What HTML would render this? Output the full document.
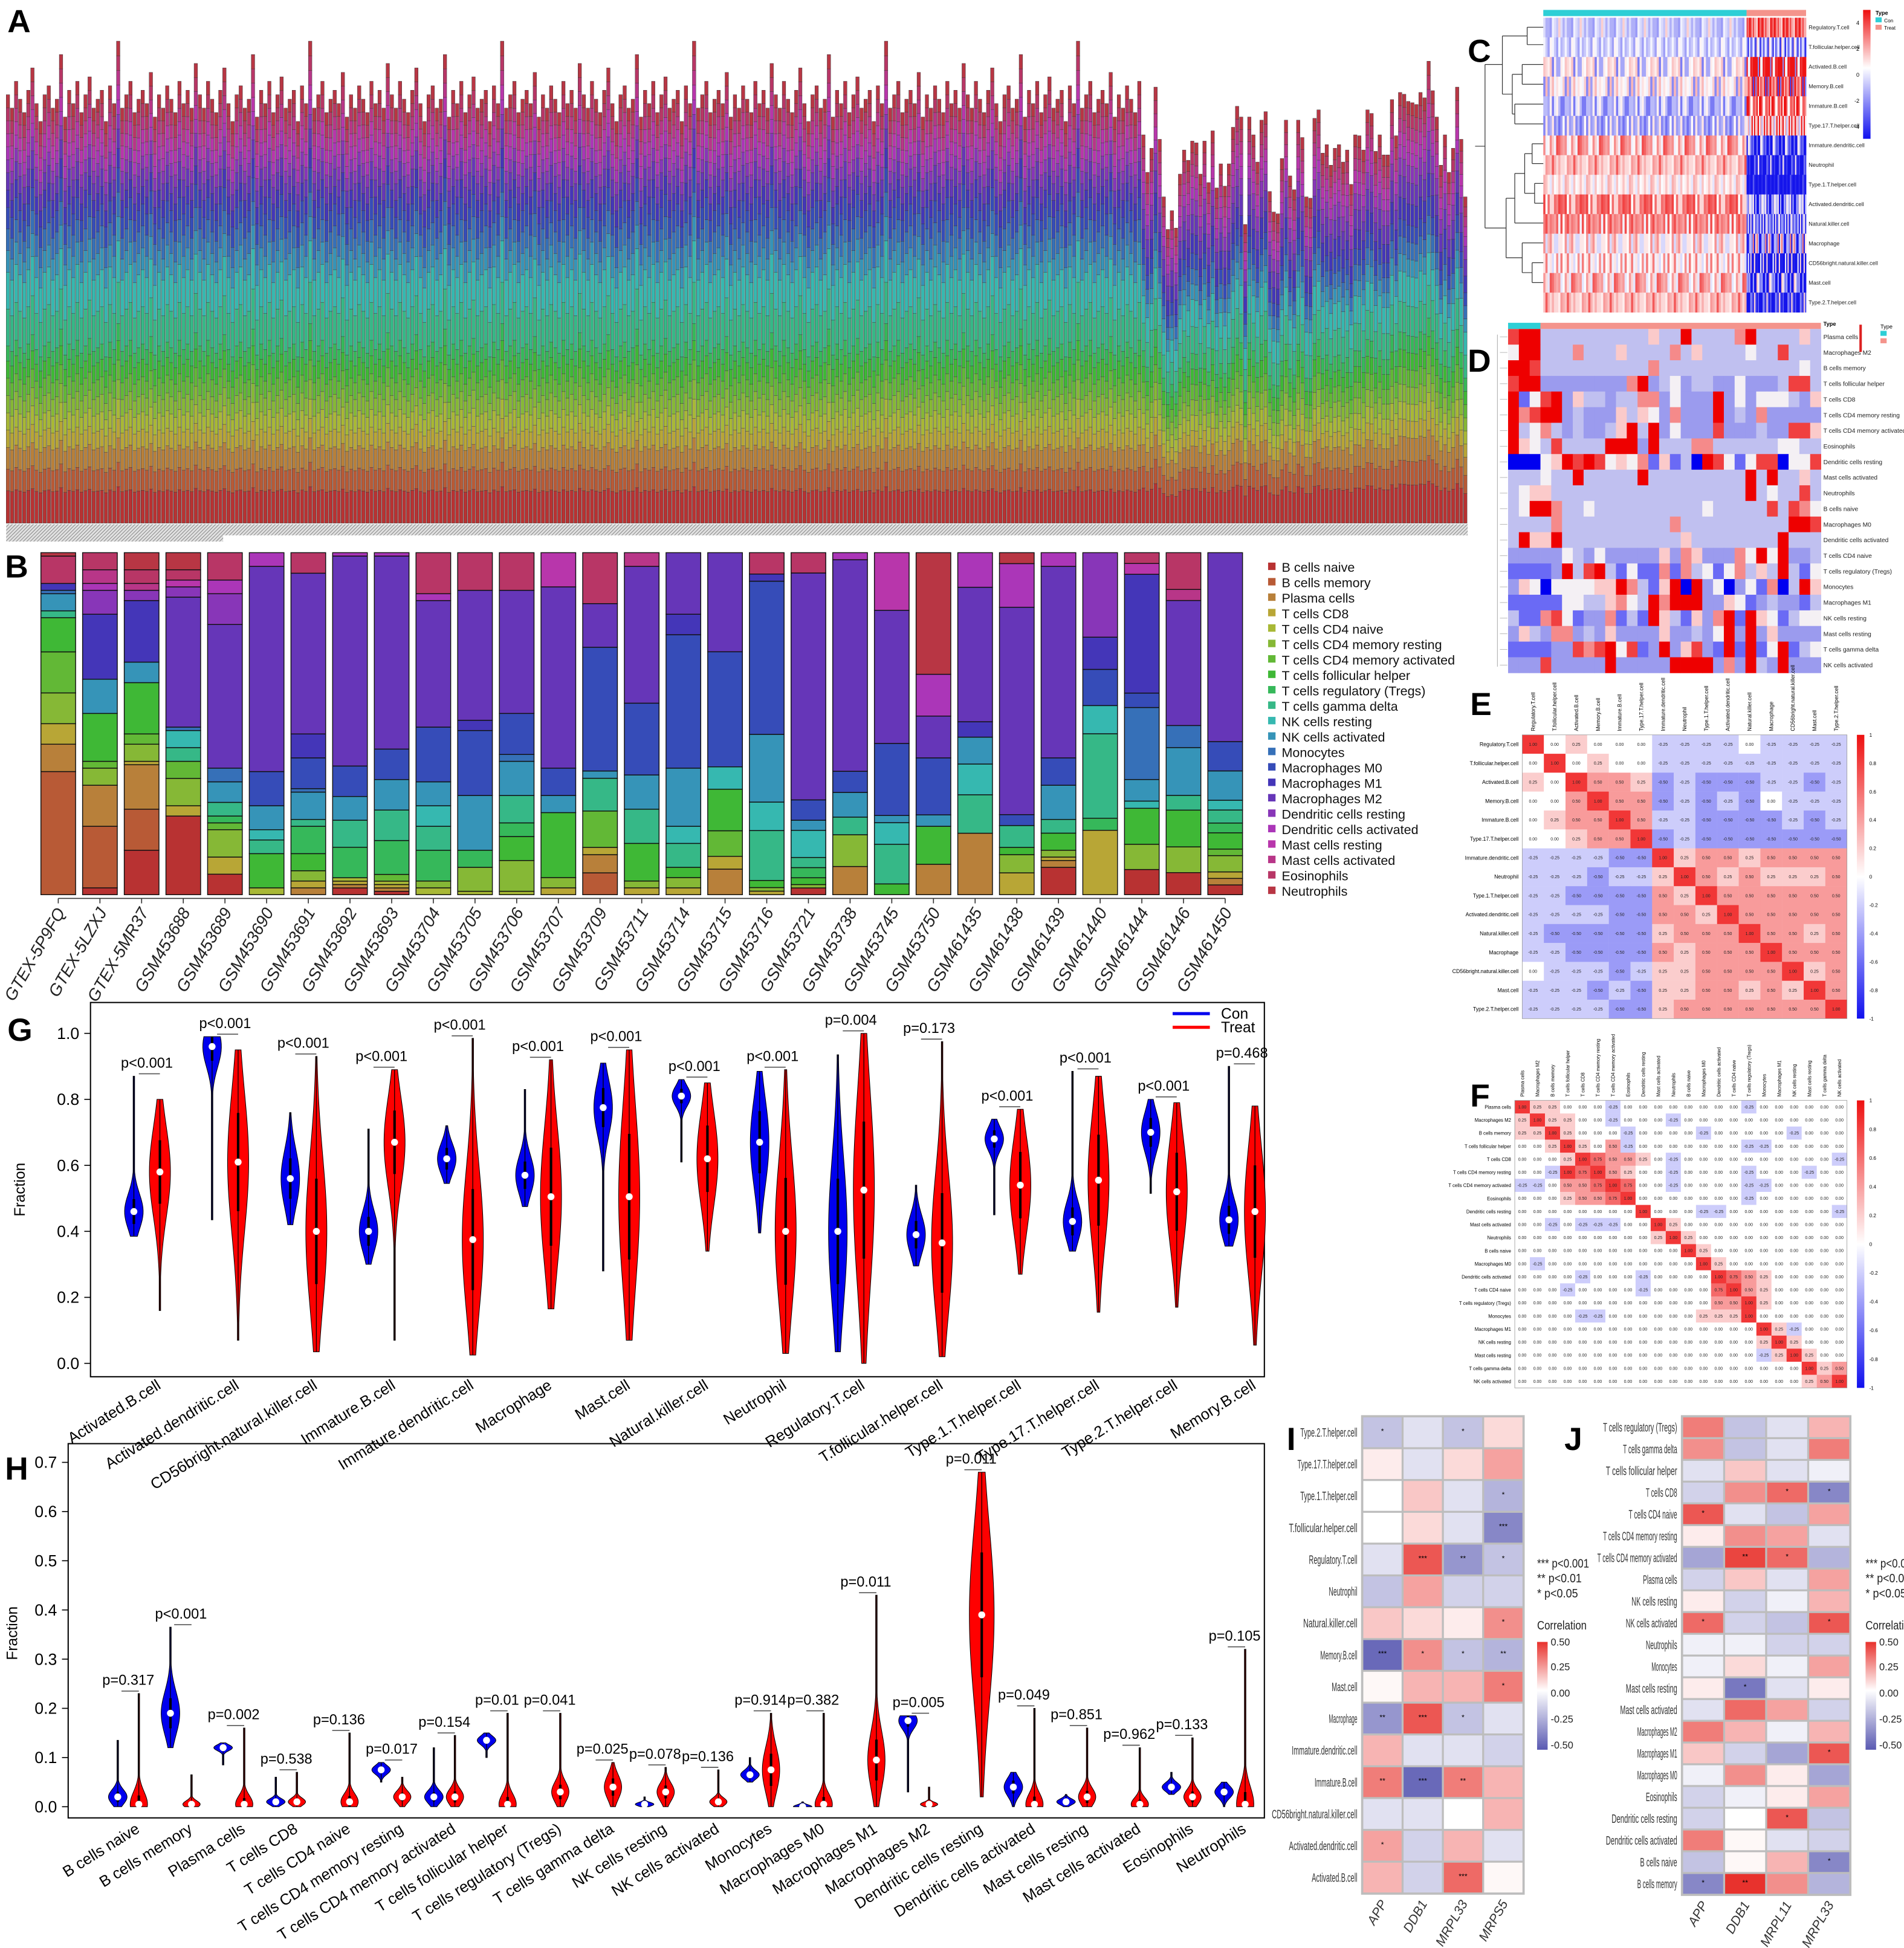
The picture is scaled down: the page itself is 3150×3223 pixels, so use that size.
<!DOCTYPE html>
<html><head><meta charset="utf-8">
<style>html,body{margin:0;padding:0;background:#fff}svg{display:block}</style>
</head><body>
<svg id="fig" xmlns="http://www.w3.org/2000/svg" width="3150" height="3223" viewBox="0 0 1536 1572" preserveAspectRatio="none" font-family="Liberation Sans, sans-serif"></svg>
<script>
// ---------------- DATA ----------------
const CELL_TYPES=['B cells naive','B cells memory','Plasma cells','T cells CD8','T cells CD4 naive','T cells CD4 memory resting','T cells CD4 memory activated','T cells follicular helper','T cells regulatory (Tregs)','T cells gamma delta','NK cells resting','NK cells activated','Monocytes','Macrophages M0','Macrophages M1','Macrophages M2','Dendritic cells resting','Dendritic cells activated','Mast cells resting','Mast cells activated','Eosinophils','Neutrophils'];
const PALETTE=['#b83232','#b85a36','#b8803a','#b8a636','#a8b836','#86b836','#62b836','#3fb836','#36b85a','#36b887','#36b8b0','#3694b8','#3670b8','#364cb8','#4436b8','#6636b8','#8836b8','#ab36b8','#b836ab','#b83688','#b83666','#b83644'];
const A_LEFT_TOTALS=[0.96,0.93,0.99,0.95,0.92,0.97,1.02,0.94,0.9,0.96,0.98,0.93,0.95,1.05,0.91,0.97,0.94,0.99,0.92,0.96,1.0,0.93,0.95,0.97,0.9,0.98,0.94,1.08,0.93,0.96,0.99,0.92,0.95,0.97,0.94,1.01,0.91,0.96,0.93,0.98,0.95,0.92,0.99,0.94,0.97,0.93,1.03];
const A_RIGHT_TOTALS=[0.87,0.786,0.84,0.977,0.86,0.731,0.658,0.70,0.661,0.782,0.836,0.813,0.856,0.852,0.782,0.856,0.763,0.879,0.751,0.805,0.755,0.805,0.887,0.934,0.91,0.669,0.91,0.87,0.809,0.903,0.922,0.743,0.697,0.693,0.817,0.903,0.778,0.747,0.903,0.864,0.731,0.728,0.907,0.926,0.829,0.848,0.802,0.84,0.848,0.809,0.836,0.759,0.87,0.868,0.836,0.926,0.918,0.833,0.87,0.825,0.825,0.949,0.868,0.965,0.961,0.945,0.942,0.938,0.965,0.953,1.035,0.969,0.91,0.802];
const A_COMP_LEFT=[7.5,5,5,4,4,4,4,4,3.5,8.5,8.5,5,5,5,4,4,3,3,3,3,3,3];
const A_COMP_RIGHT=[9,5.5,5.5,4,4,4,4,4,4,7,7,4,4,4,5,5,4,3,3,3,3,3];
const B_SAMPLES=['GTEX-5P9FQ','GTEX-5LZXJ','GTEX-5MR37','GSM453688','GSM453689','GSM453690','GSM453691','GSM453692','GSM453693','GSM453704','GSM453705','GSM453706','GSM453707','GSM453709','GSM453711','GSM453714','GSM453715','GSM453716','GSM453721','GSM453738','GSM453745','GSM453750','GSM461435','GSM461438','GSM461439','GSM461440','GSM461444','GSM461446','GSM461450'];
const B_DATA=[
[0,36,8,6,0,9,12,10,0,2,0,5,1,0,2,0,0,0,0,0,8,1],
[2,18,12,0,0,5,2,14,0,0,0,10,0,0,19,0,7,2,0,4,5,0],
[13,12,13,1,0,5,3,15,0,0,0,6,0,0,18,0,3,0,0,2,4,5],
[23,0,0,3,0,8,5,0,0,4,5,0,1,0,0,38,3,0,2,0,3,5],
[6,0,0,5,0,8,2,0,2,4,0,6,4,0,0,42,9,4,0,0,8,0],
[0,0,0,0,2,0,0,10,0,4,3,7,0,10,0,60,0,4,0,0,0,0],
[0,0,2,2,0,3,0,5,8,2,0,8,1,9,7,47,0,0,0,0,6,0],
[2,0,1,1,1,0,0,0,9,8,0,7,0,9,0,62,0,1,0,0,0,0],
[1,0,1,1,1,0,2,0,10,9,0,9,0,9,0,57,0,1,0,0,0,0],
[0,0,0,0,2,2,0,0,9,7,6,7,0,16,0,37,0,2,0,0,12,0],
[0,0,0,0,1,7,0,0,5,0,0,16,0,19,3,38,0,0,0,0,11,0],
[0,0,0,0,1,9,0,7,4,8,0,10,2,12,0,36,0,0,0,0,11,0],
[0,0,0,2,0,3,0,19,0,0,0,5,0,8,0,53,0,0,10,0,0,0],
[0,6,5,2,0,0,10,0,0,9,0,2,0,34,0,12,0,0,0,0,14,0],
[0,0,0,2,0,2,0,11,0,10,0,10,0,21,0,40,0,0,0,4,0,0],
[0,0,0,2,0,3,0,3,0,7,5,17,0,39,6,18,0,0,0,0,0,0],
[0,0,8,4,0,0,8,13,0,0,7,0,0,36,0,31,0,0,0,0,0,0],
[0,0,0,1,0,1,0,2,0,14,8,19,0,43,2,0,0,0,0,0,6,0],
[2,0,0,0,0,1,0,2,3,3,8,3,0,6,0,67,0,0,0,0,6,0],
[0,0,8,0,0,9,0,0,0,5,0,7,0,6,0,60,0,2,0,0,0,0],
[0,0,0,0,0,0,0,3,0,11,6,2,0,20,0,37,0,0,16,0,0,0],
[0,0,8,0,0,0,0,10,0,0,0,3,0,15,0,11,0,11,0,0,0,32],
[0,0,16,0,0,0,0,0,0,10,8,7,0,0,4,35,0,9,0,0,0,0],
[0,0,0,6,0,5,0,2,0,6,0,0,0,3,0,57,0,12,0,0,0,3],
[8,0,2,1,0,2,0,5,0,4,0,10,0,8,0,56,0,4,0,0,0,0],
[0,0,0,16,0,0,0,0,3,21,7,0,0,9,8,0,21,0,0,0,0,0],
[7,0,0,0,0,7,0,10,0,0,2,6,20,4,33,0,0,0,3,0,3,0],
[6,0,0,0,0,7,0,10,0,4,0,13,6,0,0,34,0,0,0,3,10,0],
[3,0,2,2,0,5,2,5,3,4,3,9,0,9,0,58,0,0,0,0,0,0]];

const G_CATS=['Activated.B.cell','Activated.dendritic.cell','CD56bright.natural.killer.cell','Immature.B.cell','Immature.dendritic.cell','Macrophage','Mast.cell','Natural.killer.cell','Neutrophil','Regulatory.T.cell','T.follicular.helper.cell','Type.1.T.helper.cell','Type.17.T.helper.cell','Type.2.T.helper.cell','Memory.B.cell'];
const G_CON_MED=[0.46,0.96,0.56,0.40,0.62,0.57,0.775,0.81,0.67,0.40,0.39,0.68,0.43,0.70,0.435];
const G_CON_MIN=[0.385,0.435,0.42,0.30,0.545,0.475,0.28,0.61,0.395,0.035,0.295,0.45,0.34,0.515,0.355];
const G_CON_MAX=[0.87,0.99,0.76,0.71,0.72,0.83,0.91,0.86,0.885,0.935,0.54,0.74,0.885,0.80,0.90];
const G_TRT_MED=[0.58,0.61,0.40,0.67,0.375,0.505,0.505,0.62,0.40,0.525,0.365,0.54,0.555,0.52,0.46];
const G_TRT_MIN=[0.16,0.07,0.035,0.07,0.025,0.165,0.07,0.34,0.03,0.0,0.02,0.27,0.155,0.17,0.055];
const G_TRT_MAX=[0.80,0.95,0.93,0.89,0.985,0.92,0.95,0.85,0.89,1.0,0.975,0.77,0.87,0.79,0.78];
const G_P=['p<0.001','p<0.001','p<0.001','p<0.001','p<0.001','p<0.001','p<0.001','p<0.001','p<0.001','p=0.004','p=0.173','p<0.001','p<0.001','p<0.001','p=0.468'];
const G_TICKS=[0,0.2,0.4,0.6,0.8,1.0];

const H_CATS=['B cells naive','B cells memory','Plasma cells','T cells CD8','T cells CD4 naive','T cells CD4 memory resting','T cells CD4 memory activated','T cells follicular helper','T cells regulatory (Tregs)','T cells gamma delta','NK cells resting','NK cells activated','Monocytes','Macrophages M0','Macrophages M1','Macrophages M2','Dendritic cells resting','Dendritic cells activated','Mast cells resting','Mast cells activated','Eosinophils','Neutrophils'];
const H_CON_MED=[0.02,0.19,0.12,0.01,0,0.075,0.02,0.135,0,0,0.005,0,0.065,0,0,0.175,0,0.04,0.01,0,0.04,0.03];
const H_CON_MIN=[0,0.12,0.085,0,0,0.05,0,0.10,0,0,0,0,0.05,0,0,0.03,0,0,0,0,0.025,0];
const H_CON_MAX=[0.135,0.365,0.13,0.06,0,0.09,0.12,0.15,0,0,0.02,0,0.10,0.01,0,0.185,0,0.07,0.025,0,0.07,0.05];
const H_TRT_MED=[0.005,0.005,0.005,0.01,0.01,0.02,0.02,0.005,0.03,0.04,0.03,0.01,0.075,0.005,0.095,0.005,0.39,0.005,0.02,0.005,0.02,0.005];
const H_TRT_MIN=[0,0,0,0,0,0,0,0,0,0,0,0,0,0,0,0,0.02,0,0,0,0,0];
const H_TRT_MAX=[0.23,0.065,0.16,0.07,0.15,0.06,0.145,0.19,0.19,0.09,0.08,0.075,0.19,0.19,0.43,0.04,0.68,0.20,0.16,0.12,0.14,0.32];
const H_P=['p=0.317','p<0.001','p=0.002','p=0.538','p=0.136','p=0.017','p=0.154','p=0.01','p=0.041','p=0.025','p=0.078','p=0.136','p=0.914','p=0.382','p=0.011','p=0.005','p=0.011','p=0.049','p=0.851','p=0.962','p=0.133','p=0.105'];
const H_TICKS=[0,0.1,0.2,0.3,0.4,0.5,0.6,0.7];

const C_ROWS=['Regulatory.T.cell','T.follicular.helper.cell','Activated.B.cell','Memory.B.cell','Immature.B.cell','Type.17.T.helper.cell','Immature.dendritic.cell','Neutrophil','Type.1.T.helper.cell','Activated.dendritic.cell','Natural.killer.cell','Macrophage','CD56bright.natural.killer.cell','Mast.cell','Type.2.T.helper.cell'];
const C_CON=[-0.2,0.0,-0.15,-0.1,-0.25,-0.2,0.35,0.3,0.3,0.4,0.35,0.15,0.25,0.3,0.3];
const C_TRT=[0.7,0.1,0.5,0.2,0.8,0.7,-0.9,-0.9,-0.8,-0.9,-0.9,-0.2,-0.6,-0.7,-0.8];
const C_JITTER='5284619370254831906472815039627418053926174850362917408253619473052816';

const D_ROWS=['Plasma cells','Macrophages M2','B cells memory','T cells follicular helper','T cells CD8','T cells CD4 memory resting','T cells CD4 memory activated','Eosinophils','Dendritic cells resting','Mast cells activated','Neutrophils','B cells naive','Macrophages M0','Dendritic cells activated','T cells CD4 naive','T cells regulatory (Tregs)','Monocytes','Macrophages M1','NK cells resting','Mast cells resting','T cells gamma delta','NK cells activated'];
const D_LEVELS=[
'78833333333335338333368333353',
'48833363335333363533334337333',
'88733333333336333333333333343',
'78822222222682342332242223773',
'81478253323366242228242444325',
'86788232225354262228232622222',
'83463232235838242227222322775',
'85437333388828333663333334433',
'00045878745461513087414770447',
'33343383333383333333338383353',
'34553333333333333333338343373',
'34886334333333333343333373764',
'33336333333333363333333333887',
'38558333333333335333333338333',
'22222432422222526522264848223',
'11112837831411616341463538314',
'25404444558631580824024160385',
'11111443356438688822541232213',
'31167412261318531526818541344',
'25326623252222522324828252222',
'11112276784712825721818148134',
'22272222282222288882628328222'];

const E_ROWS=C_ROWS.slice();
const E_LEVELS=['845444333343333','484544333333333','548665232223323','446866232324333','456686332222323','445668232222222','333322856656666','333233586565556','332222658666666','333322665866666','322222566686656','332222656668666','433323556666856','333232556656586','333322566666668'];
const F_ROWS=D_ROWS.slice();
const F_LEVELS=['8554443444444443444444','5855443444344444444444','5585444344443444443444','4458546344444443344444','4445876654344444444443','4438786544344443444344','3346678744344443344444','4445667844444443444444','4444444484443344444443','4434333448544444444444','4444444445854444444444','4444444444485444444444','4344444444448544444444','4444344434444876544444','4443444434444786544444','4444444444444668544444','4444334444445558444444','4444444444444444853444','4444444444444444585444','4444444444444444358544','4444444444444444444856','4444444444444444444568'];

const I_ROWS=['Type.2.T.helper.cell','Type.17.T.helper.cell','Type.1.T.helper.cell','T.follicular.helper.cell','Regulatory.T.cell','Neutrophil','Natural.killer.cell','Memory.B.cell','Mast.cell','Macrophage','Immature.dendritic.cell','Immature.B.cell','CD56bright.natural.killer.cell','Activated.dendritic.cell','Activated.B.cell'];
const I_GENES=['APP','DDB1','MRPL33','MRPS5'];
const I_VALUES=[[-0.2,-0.1,-0.2,0.1],[0.05,-0.1,0.1,0.25],[0,0.15,-0.1,-0.25],[0,0.1,-0.1,-0.4],[-0.1,0.45,-0.35,-0.2],[-0.2,0.25,-0.15,-0.15],[0.15,0.1,0.05,0.3],[-0.5,0.3,-0.2,-0.25],[0.02,0.2,0.2,0.35],[-0.35,0.45,-0.2,-0.1],[0.2,-0.1,-0.1,-0.15],[0.35,-0.5,0.35,0.2],[-0.1,-0.1,0,0.2],[0.25,-0.15,0.2,-0.1],[0.2,-0.15,0.4,0.02]];
const I_STARS=[['*','','*',''],['','','',''],['','','','*'],['','','','***'],['','***','**','*'],['','','',''],['','','','*'],['***','*','*','**'],['','','','*'],['**','***','*',''],['','','',''],['**','***','**',''],['','','',''],['*','','',''],['','','***','']];
const J_ROWS=['T cells regulatory (Tregs)','T cells gamma delta','T cells follicular helper','T cells CD8','T cells CD4 naive','T cells CD4 memory resting','T cells CD4 memory activated','Plasma cells','NK cells resting','NK cells activated','Neutrophils','Monocytes','Mast cells resting','Mast cells activated','Macrophages M2','Macrophages M1','Macrophages M0','Eosinophils','Dendritic cells resting','Dendritic cells activated','B cells naive','B cells memory'];
const J_GENES=['APP','DDB1','MRPL11','MRPL33'];
const J_VALUES=[[0.35,-0.2,-0.1,0.2],[0.3,-0.2,-0.1,0.35],[-0.1,0.15,-0.1,-0.05],[-0.15,0.3,0.4,-0.4],[0.45,-0.1,-0.2,0.25],[0.05,0.3,0.25,-0.1],[-0.3,0.5,0.4,-0.25],[-0.15,0.15,-0.1,0.25],[0.05,-0.15,-0.05,0.2],[0.4,-0.15,-0.2,0.45],[-0.05,-0.05,-0.15,-0.15],[-0.05,0.1,-0.05,0.25],[0.05,-0.45,-0.1,0.05],[-0.1,0.4,0.25,-0.15],[0.35,0.2,-0.05,0.2],[0.15,-0.15,-0.3,0.45],[-0.05,0.3,0.05,-0.3],[-0.15,-0.05,0.05,0.25],[-0.15,0,0.45,-0.2],[0.35,0.02,-0.1,-0.15],[-0.2,0.02,0.2,-0.4],[-0.4,0.55,0.3,-0.25]];
const J_STARS=[['','','',''],['','','',''],['','','',''],['','','*','*'],['*','','',''],['','','',''],['','**','*',''],['','','',''],['','','',''],['*','','','*'],['','','',''],['','','',''],['','*','',''],['','','',''],['','','',''],['','','','*'],['','','',''],['','','',''],['','','*',''],['','','',''],['','','','*'],['*','**','','']];

// ---------------- HELPERS ----------------
const NS='http://www.w3.org/2000/svg';
const svg=document.getElementById('fig');
function mk(tag,attrs,name,parent){
  const el=document.createElementNS(NS,tag);
  for(const k in attrs) el.setAttribute(k,attrs[k]);
  
  
  (parent||svg).appendChild(el);
  return el;
}
function txt(x,y,s,size,opts,name,parent){
  const t=mk('text',Object.assign({x:x,y:y,'font-size':size},opts||{}),name,parent);
  t.textContent=s; return t;
}
function lerp(a,b,t){return Math.round(a+(b-a)*t);}
function heat(v,neg,pos){
  v=Math.max(-1,Math.min(1,v));
  const c=v<0?neg:pos, t=Math.abs(v);
  return 'rgb('+lerp(255,c[0],t)+','+lerp(255,c[1],t)+','+lerp(255,c[2],t)+')';
}
const BLUE=[20,20,235], RED=[238,20,20];

// ---------------- PANEL LETTERS ----------------
[['A',6,26],['B',4,466],['C',1184,50],['D',1184,300],['E',1186,577],['F',1186,893],['G',6,840],['H',4,1194],['I',1038,1170],['J',1262,1170]].forEach(p=>{
  txt(p[1],p[2],p[0],26,{'font-weight':'bold',fill:'#000'},'panel-label-'+p[0].toLowerCase());
});

// ---------------- PANEL A ----------------
(function(){
  const g=mk('g',{},'panel-a-stacked-bars');
  const defs=mk('defs',{},'defs-a',g);
  const pat=mk('pattern',{id:'hatch',width:2,height:2,patternUnits:'userSpaceOnUse',patternTransform:'rotate(45)'},'hatch-pattern',defs);
  mk('rect',{x:0,y:0,width:2,height:2,fill:'#e0e0e0'},'hatch-bg',pat);
  mk('line',{x1:0,y1:0,x2:0,y2:2,stroke:'#777','stroke-width':0.8},'hatch-line',pat);
  const base=422, scale=360, nL=278, nR=80, x0=5, x1=921, x2=1184;
  for(let i=0;i<nL+nR;i++){
    const left=i<nL;
    const tot=left?A_LEFT_TOTALS[i%A_LEFT_TOTALS.length]:A_RIGHT_TOTALS[(i-nL)%A_RIGHT_TOTALS.length];
    const comp=left?A_COMP_LEFT:A_COMP_RIGHT;
    const sum=comp.reduce((a,b)=>a+b,0);
    const bw=left?(x1-x0)/nL:(x2-x1)/nR;
    const x=left?x0+i*bw:x1+(i-nL)*bw;
    let y=base;
    comp.forEach((c,k)=>{
      const h=c/sum*tot*scale; y-=h;
      mk('rect',{x:x.toFixed(2),y:y.toFixed(2),width:(bw*0.85).toFixed(2),height:(h+0.2).toFixed(2),fill:PALETTE[k],stroke:'#3a3a3a','stroke-width':0.25},'bar-a-segment',g);
    });
  }
  mk('rect',{x:5,y:423,width:1179,height:9,fill:'url(#hatch)'},'panel-a-sample-labels',g);
  mk('rect',{x:5,y:432,width:175,height:5,fill:'url(#hatch)'},'panel-a-sample-labels-tail',g);
})();

// ---------------- PANEL B ----------------
(function(){
  const g=mk('g',{},'panel-b-stacked-bars');
  const bx0=33,pitch=(1008-33)/29,bw=28,top=446,bot=722;
  B_DATA.forEach((arr,i)=>{
    const sum=arr.reduce((a,b)=>a+b,0);
    const x=bx0+i*pitch;
    let y=bot;
    arr.forEach((v,k)=>{
      if(!v) return;
      const h=v/sum*(bot-top); y-=h;
      mk('rect',{x:x.toFixed(2),y:y.toFixed(2),width:bw,height:h.toFixed(2),fill:PALETTE[k],stroke:'#111','stroke-width':0.7},'bar-b-segment',g);
    });
    const cx=x+bw/2;
    mk('line',{x1:cx,y1:725,x2:cx,y2:729,stroke:'#333','stroke-width':0.8},'x-tick-b',g);
    txt(cx+6,736,B_SAMPLES[i],13.5,{'text-anchor':'end',transform:'rotate(-60 '+(cx+6)+' 736)',fill:'#222','font-style':'italic'},'x-label-b',g);
  });
  mk('line',{x1:bx0+14,y1:725,x2:bx0+28*pitch+14,y2:725,stroke:'#333','stroke-width':0.8},'x-axis-b',g);
  CELL_TYPES.forEach((c,k)=>{
    const y=458+k*12.45;
    mk('rect',{x:1023,y:y-4,width:6,height:6,fill:PALETTE[k]},'legend-swatch-b',g);
    txt(1034,y+3.5,c,10.5,{fill:'#111'},'legend-entry-b',g);
  });
})();

// ---------------- VIOLIN HELPER ----------------
function violin(par,cx,med,mn,mx,fill,hw,yf,name){
  if(mx-mn<=0) return;
  const s=Math.max(Math.min(med-mn,mx-med)/1.6,(mx-mn)/9,0.004);
  const n=50,R=[],L=[];
  for(let j=0;j<=n;j++){
    const v=mn+(mx-mn)*j/n;
    let w=hw*Math.exp(-0.5*Math.pow((v-med)/s,2)); w=Math.max(w,0.6);
    const y=yf(v); R.push((cx+w).toFixed(2)+','+y.toFixed(2)); L.unshift((cx-w).toFixed(2)+','+y.toFixed(2));
  }
  mk('path',{d:'M'+R.join('L')+'L'+L.join('L')+'Z',fill:fill,stroke:'#000','stroke-width':0.5},name,par);
  mk('line',{x1:cx,y1:yf(mn),x2:cx,y2:yf(mx),stroke:'#000','stroke-width':0.6},name+'-whisker',par);
  mk('line',{x1:cx,y1:yf(Math.max(mn,med-s*0.7)),x2:cx,y2:yf(Math.min(mx,med+s*0.7)),stroke:'#000','stroke-width':2},name+'-box',par);
  mk('circle',{cx:cx,cy:yf(med),r:2.8,fill:'#fff'},name+'-median',par);
}

// ---------------- PANEL G ----------------
(function(){
  const g=mk('g',{},'panel-g-violin');
  const gy=v=>1100.2-v*266.3, gxC=i=>108+i*63.1, gxT=i=>129+i*63.1;
  mk('rect',{x:73,y:809,width:947,height:302,fill:'none',stroke:'#000','stroke-width':1},'plot-frame-g',g);
  G_TICKS.forEach(t=>{
    mk('line',{x1:68,y1:gy(t),x2:73,y2:gy(t),stroke:'#000','stroke-width':0.8},'y-tick-g',g);
    txt(64,gy(t)+4.5,t.toFixed(1),13,{'text-anchor':'end'},'y-tick-label-g',g);
  });
  txt(0,0,'Fraction',12,{transform:'translate(20 960) rotate(-90)','text-anchor':'middle'},'y-axis-title-g',g);
  G_CATS.forEach((c,i)=>{
    violin(g,gxC(i),G_CON_MED[i],G_CON_MIN[i],G_CON_MAX[i],'#0000ee',7.5,gy,'violin-con-g');
    violin(g,gxT(i),G_TRT_MED[i],G_TRT_MIN[i],G_TRT_MAX[i],'#ff0000',8.5,gy,'violin-treat-g');
    const top=gy(Math.max(G_CON_MAX[i],G_TRT_MAX[i]));
    mk('line',{x1:gxC(i)+4,y1:top-2,x2:gxT(i),y2:top-2,stroke:'#555','stroke-width':0.8},'p-bracket-g',g);
    txt((gxC(i)+gxT(i))/2,top-7,G_P[i],11.5,{'text-anchor':'middle'},'p-value-g',g);
    const cx=(gxC(i)+gxT(i))/2;
    txt(cx+12,1120,c,12.5,{'text-anchor':'end',transform:'rotate(-32 '+(cx+12)+' 1120)'},'x-label-g',g);
  });
  mk('line',{x1:946,y1:818,x2:976,y2:818,stroke:'#0000ee','stroke-width':2.5},'legend-line-con',g);
  txt(985,822,'Con',12,{},'legend-entry-con',g);
  mk('line',{x1:946,y1:829,x2:976,y2:829,stroke:'#ff0000','stroke-width':2.5},'legend-line-treat',g);
  txt(985,833,'Treat',12,{},'legend-entry-treat',g);
})();

// ---------------- PANEL H ----------------
(function(){
  const g=mk('g',{},'panel-h-violin');
  const hy=v=>1458-v*397, hxC=i=>95+i*42.5, hxT=i=>112+i*42.5;
  mk('rect',{x:55,y:1165,width:965,height:302,fill:'none',stroke:'#000','stroke-width':1},'plot-frame-h',g);
  H_TICKS.forEach(t=>{
    mk('line',{x1:50,y1:hy(t),x2:55,y2:hy(t),stroke:'#000','stroke-width':0.8},'y-tick-h',g);
    txt(46,hy(t)+4.5,t.toFixed(1),13,{'text-anchor':'end'},'y-tick-label-h',g);
  });
  txt(0,0,'Fraction',12,{transform:'translate(14 1318) rotate(-90)','text-anchor':'middle'},'y-axis-title-h',g);
  H_CATS.forEach((c,i)=>{
    violin(g,hxC(i),H_CON_MED[i],H_CON_MIN[i],H_CON_MAX[i],'#0000ee',7.5,hy,'violin-con-h');
    violin(g,hxT(i),H_TRT_MED[i],H_TRT_MIN[i],H_TRT_MAX[i],'#ff0000',i===16?10:7,hy,'violin-treat-h');
    const top=hy(Math.max(H_CON_MAX[i],H_TRT_MAX[i]));
    mk('line',{x1:hxC(i)+3,y1:top-2,x2:hxT(i),y2:top-2,stroke:'#555','stroke-width':0.8},'p-bracket-h',g);
    txt((hxC(i)+hxT(i))/2,top-7,H_P[i],11.5,{'text-anchor':'middle'},'p-value-h',g);
    const cx=(hxC(i)+hxT(i))/2;
    txt(cx+10,1478,c,12.5,{'text-anchor':'end',transform:'rotate(-32 '+(cx+10)+' 1478)'},'x-label-h',g);
  });
})();

// ---------------- PANEL C ----------------
(function(){
  const g=mk('g',{},'panel-c-heatmap');
  const x0=1245,xs=1409,x1=1457,y0=14.3,y1=252,nC=95,nT=48,rh=(y1-y0)/C_ROWS.length;
  const wc=(xs-x0)/nC, wt=(x1-xs)/nT;
  mk('rect',{x:x0,y:8,width:xs-x0,height:5,fill:'#2ecfd6'},'annotation-con-c',g);
  mk('rect',{x:xs,y:8,width:x1-xs,height:5,fill:'#f4948c'},'annotation-treat-c',g);
  C_ROWS.forEach((r,ri)=>{
    const y=y0+ri*rh;
    for(let j=0;j<nC+nT;j++){
      const con=j<nC;
      const d=+C_JITTER[(j*7+ri*3)%C_JITTER.length];
      const v=con?C_CON[ri]+(d-4.5)*0.09:C_TRT[ri]+(d-4.5)*0.22;
      const x=con?x0+j*wc:xs+(j-nC)*wt;
      mk('rect',{x:x.toFixed(2),y:y.toFixed(2),width:((con?wc:wt)+0.2).toFixed(2),height:(rh+0.2).toFixed(2),fill:heat(v,BLUE,RED)},'heatmap-cell-c',g);
    }
    txt(1459,y+rh/2+1.5,r,4.5,{fill:'#222'},'row-label-c',g);
  });
  const dl=[[1245,22,1232,22],[1245,36,1232,36],[1232,22,1232,36],[1232,29,1212,29],[1245,52,1228,52],[1245,68,1228,68],[1228,52,1228,68],[1228,60,1220,60],[1245,84,1222,84],[1245,100,1222,100],[1222,84,1222,100],[1222,92,1220,92],[1220,60,1220,92],[1220,76,1212,76],[1212,29,1212,76],[1212,52,1198,52],
  [1245,116,1236,116],[1245,132,1236,132],[1236,116,1236,132],[1236,124,1230,124],[1245,148,1238,148],[1245,164,1238,164],[1238,148,1238,164],[1238,156,1230,156],[1230,124,1230,156],[1230,140,1222,140],[1245,180,1222,180],[1222,140,1222,180],[1222,160,1215,160],
  [1245,196,1228,196],[1245,212,1236,212],[1245,228,1236,228],[1236,212,1236,228],[1236,220,1228,220],[1228,196,1228,220],[1228,208,1215,208],[1215,160,1215,208],[1215,184,1198,184],[1198,52,1198,184],[1198,118,1190,118]];
  dl.forEach(l=>mk('line',{x1:l[0],y1:l[1],x2:l[2],y2:l[3],stroke:'#333','stroke-width':0.6},'dendrogram-c',g));
  const grad=mk('linearGradient',{id:'gc',x1:0,y1:0,x2:0,y2:1},'colorbar-gradient-c',g);
  [['0','#ee1010'],['0.45','#ffffff'],['1','#1010ee']].forEach(s=>mk('stop',{offset:s[0],'stop-color':s[1]},'gradient-stop',grad));
  mk('rect',{x:1503,y:8,width:6,height:104,fill:'url(#gc)'},'colorbar-c',g);
  ['4','2','0','-2','-4'].forEach((t,k)=>txt(1500,20+k*21,t,4.5,{'text-anchor':'end'},'colorbar-label-c',g));
  txt(1513,12,'Type',4.5,{'font-weight':'bold'},'legend-title-c',g);
  mk('rect',{x:1513,y:14,width:5,height:4,fill:'#2ecfd6'},'legend-swatch-con-c',g);
  txt(1520,18,'Con',4,{},'legend-entry-con-c',g);
  mk('rect',{x:1513,y:20,width:5,height:4,fill:'#f4948c'},'legend-swatch-treat-c',g);
  txt(1520,24,'Treat',4,{},'legend-entry-treat-c',g);
})();

// ---------------- PANEL D ----------------
(function(){
  const g=mk('g',{},'panel-d-heatmap');
  const DCOL=['#0000f0','#6a6af5','#9b9bee','#c0c0f0','#f4f0f4','#fbcaca','#f58a8a','#f04040','#ee0000'];
  const x0=1216.6,x1=1469,y0=265.5,y1=543,nc=29,cw=(x1-x0)/nc,rh=(y1-y0)/D_ROWS.length;
  mk('rect',{x:x0,y:260.5,width:cw*3,height:5,fill:'#2ecfd6'},'annotation-con-d',g);
  mk('rect',{x:x0+cw*3,y:260.5,width:cw*26,height:5,fill:'#f4948c'},'annotation-treat-d',g);
  D_ROWS.forEach((r,ri)=>{
    const s=D_LEVELS[ri];
    for(let j=0;j<nc;j++){
      const d=+(s[j]||'3');
      mk('rect',{x:(x0+j*cw).toFixed(2),y:(y0+ri*rh).toFixed(2),width:(cw+0.2).toFixed(2),height:(rh+0.2).toFixed(2),fill:DCOL[d]},'heatmap-cell-d',g);
    }
    txt(1471,y0+ri*rh+rh/2+1.8,r,5,{fill:'#222'},'row-label-d',g);
    mk('line',{x1:1210,y1:y0+ri*rh+rh/2,x2:1216,y2:y0+ri*rh+rh/2,stroke:'#aaa','stroke-width':0.4},'dendrogram-d',g);
  });
  mk('line',{x1:1208,y1:270,x2:1208,y2:538,stroke:'#aaa','stroke-width':0.5},'dendrogram-d',g);
  txt(1471,263,'Type',4.5,{'font-weight':'bold'},'annotation-title-d',g);
  mk('rect',{x:1500,y:262,width:2,height:22,fill:'#d22'},'colorbar-d',g);
  txt(1517,265,'Type',4.5,{},'legend-title-d',g);
  mk('rect',{x:1517,y:267,width:5,height:4,fill:'#2ecfd6'},'legend-swatch-con-d',g);
  mk('rect',{x:1517,y:273,width:5,height:4,fill:'#f4948c'},'legend-swatch-treat-d',g);
})();

// ---------------- CORRELATION MATRICES E, F ----------------
function corrPanel(name,rows,levels,x0,x1,y0,y1,fs,showVals){
  const g=mk('g',{},name);
  const n=rows.length,cw=(x1-x0)/n,rh=(y1-y0)/n;
  rows.forEach((r,ri)=>{
    for(let j=0;j<n;j++){
      const v=(+levels[ri][j]-4)/4;
      mk('rect',{x:(x0+j*cw).toFixed(2),y:(y0+ri*rh).toFixed(2),width:(cw+0.1).toFixed(2),height:(rh+0.1).toFixed(2),fill:heat(v*0.85,BLUE,RED)},'corr-cell',g);
      if(showVals) txt(x0+j*cw+cw/2,y0+ri*rh+rh/2+1.2,v.toFixed(2),3.4,{'text-anchor':'middle',fill:'#222'},'corr-value',g);
    }
    txt(x0-3,y0+ri*rh+rh/2+1.5,r,fs,{'text-anchor':'end'},'row-label',g);
    const cx=x0+ri*cw+cw/2;
    txt(cx+1.5,y0-3,r,fs,{transform:'rotate(-90 '+(cx+1.5)+' '+(y0-3)+')'},'col-label',g);
  });
  mk('rect',{x:x0,y:y0,width:x1-x0,height:y1-y0,fill:'none',stroke:'#999','stroke-width':0.4},'matrix-frame',g);
  const id=name+'-grad';
  const grad=mk('linearGradient',{id:id,x1:0,y1:0,x2:0,y2:1},'colorbar-gradient',g);
  [['0','#ee1010'],['0.5','#ffffff'],['1','#1010ee']].forEach(s=>mk('stop',{offset:s[0],'stop-color':s[1]},'gradient-stop',grad));
  mk('rect',{x:1498,y:y0,width:6,height:y1-y0,fill:'url(#'+id+')'},'colorbar',g);
  ['1','0.8','0.6','0.4','0.2','0','-0.2','-0.4','-0.6','-0.8','-1'].forEach((t,k)=>txt(1508,y0+k*(y1-y0)/10+1.5,t,4,{},'colorbar-label',g));
}
corrPanel('panel-e-correlation',E_ROWS,E_LEVELS,1228,1490,593,822,4.3,true);
corrPanel('panel-f-correlation',F_ROWS,F_LEVELS,1222,1490,888,1120,3.8,true);

// ---------------- GENE CORRELATION I, J ----------------
function genePanel(name,rows,genes,vals,stars,x0,x1,y0,y1,lx){
  const g=mk('g',{},name);
  const n=rows.length,cw=(x1-x0)/genes.length,rh=(y1-y0)/n;
  const NEG=[90,90,178],POS=[232,50,45];
  mk('rect',{x:x0-1,y:y0-1,width:x1-x0+2,height:y1-y0+2,fill:'#bdbdbd'},'matrix-background',g);
  rows.forEach((r,ri)=>{
    genes.forEach((ge,j)=>{
      const v=vals[ri][j];
      mk('rect',{x:(x0+j*cw+0.8).toFixed(2),y:(y0+ri*rh+0.8).toFixed(2),width:(cw-1.6).toFixed(2),height:(rh-1.6).toFixed(2),fill:heat(v/0.55,NEG,POS)},'corr-cell',g);
      if(stars[ri][j]) txt(x0+j*cw+cw/2,y0+ri*rh+rh/2+1,stars[ri][j],6,{'text-anchor':'middle'},'significance-stars',g);
    });
    txt(x0-4,y0+ri*rh+rh/2+3.5,r,10,{'text-anchor':'end',fill:'#333','textLength':(r.length*2.3).toFixed(1),'lengthAdjust':'spacingAndGlyphs'},'row-label',g);
  });
  genes.forEach((ge,j)=>{
    const cx=x0+j*cw+cw/2+4;
    txt(cx,y1+8,ge,10.5,{'text-anchor':'end','font-style':'italic',fill:'#333',transform:'rotate(-60 '+cx+' '+(y1+8)+')'},'col-label',g);
  });
  txt(lx,1265,'***  p<0.001',10,{fill:'#222','textLength':42,'lengthAdjust':'spacingAndGlyphs'},'legend-p001',g);
  txt(lx,1277,'**  p<0.01',10,{fill:'#222','textLength':36,'lengthAdjust':'spacingAndGlyphs'},'legend-p01',g);
  txt(lx,1289,'*  p<0.05',10,{fill:'#222','textLength':33,'lengthAdjust':'spacingAndGlyphs'},'legend-p05',g);
  txt(lx,1315,'Correlation',10,{fill:'#222','textLength':40,'lengthAdjust':'spacingAndGlyphs'},'legend-title',g);
  const id=name+'-grad';
  const grad=mk('linearGradient',{id:id,x1:0,y1:0,x2:0,y2:1},'colorbar-gradient',g);
  [['0','#e8322d'],['0.45','#ffffff'],['1','#5a5ab2']].forEach(s=>mk('stop',{offset:s[0],'stop-color':s[1]},'gradient-stop',grad));
  mk('rect',{x:lx,y:1325,width:8.5,height:87,fill:'url(#'+id+')'},'colorbar',g);
  [['0.50',1325],['0.25',1345],['0.00',1366],['-0.25',1387],['-0.50',1408]].forEach(t=>txt(lx+11,t[1]+3,t[0],8,{fill:'#222'},'colorbar-label',g));
}
genePanel('panel-i-gene-correlation',I_ROWS,I_GENES,I_VALUES,I_STARS,1099,1229,1143,1528,1240);
genePanel('panel-j-gene-correlation',J_ROWS,J_GENES,J_VALUES,J_STARS,1357,1492.6,1143,1529,1505);
</script>
</body></html>
